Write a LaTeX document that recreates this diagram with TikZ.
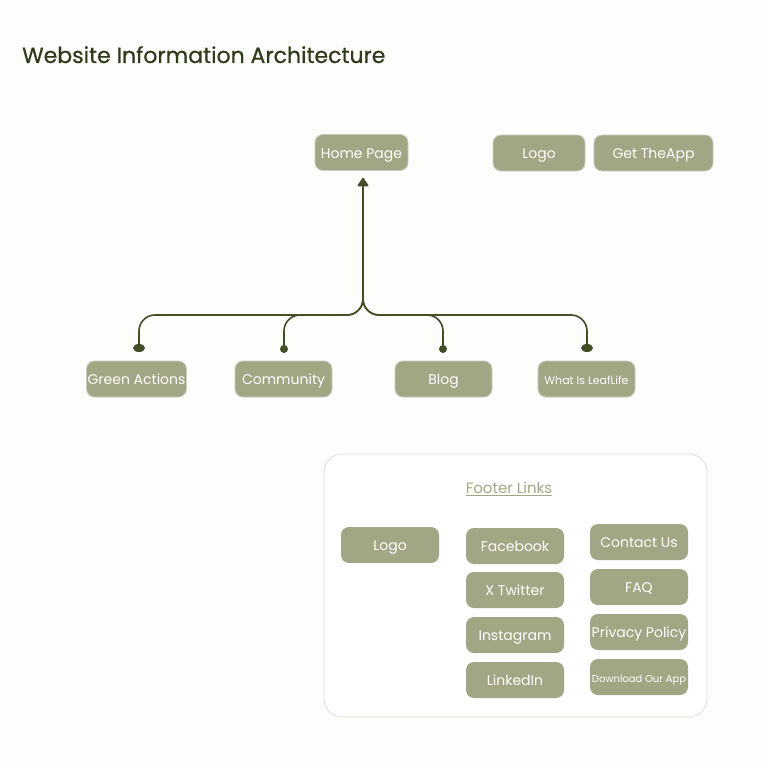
\documentclass[tikz,border=0pt]{standalone}
\usepackage{fontspec}
\setmainfont{Poppins}
\usetikzlibrary{arrows.meta}

\definecolor{bgc}{HTML}{FDFDFB}
\definecolor{boxfill}{HTML}{A3A684}
\definecolor{boxline}{HTML}{C9CBBD}
\definecolor{darkolive}{HTML}{434D28}
\definecolor{titlec}{HTML}{2F3A1A}
\definecolor{panelline}{HTML}{DCDCD8}

\tikzset{
  navbox/.style={draw=boxline, line width=0.8pt, fill=boxfill, rounded corners=8pt,
    minimum width=97pt, minimum height=36pt, inner sep=1pt, text height=1.1em, text depth=0pt,
    text=white, font=\fontsize{14}{16}\selectfont},
  link/.style={draw=darkolive, line width=1.6pt, rounded corners=16pt},
  knob/.style={fill=darkolive, ellipse, inner sep=0pt},
}
\usetikzlibrary{shapes.geometric}

\begin{document}
\begin{tikzpicture}[x=1pt, y=-1pt]

  \fill[bgc] (0,0) rectangle (768,768);
  \useasboundingbox (0,0) rectangle (768,768);

  %title
  \node[anchor=base west, text=titlec, font=\fontsize{22}{24}\selectfont\addfontfeature{FakeBold=0.5}, inner sep=0pt] (title) at (22,63) {Website Information Architecture};

  %top row
  \node[navbox, minimum width=93pt] (home) at (361.5,152.5) {Home Page};
  \node[navbox, minimum width=92pt] (logo) at (539,153) {Logo};
  \node[navbox, minimum width=119pt] (app) at (653.5,153) {Get TheApp};

  %second level
  \foreach \x/\txt/\name in {136.5/Green Actions/green, 283.5/Community/comm, 443.5/Blog/blog}{
    \node[navbox] (\name) at (\x,379) {\txt};
  }
  \node[navbox, font=\fontsize{11}{13}\selectfont] (leaf) at (586.5,379) {What Is LeafLife};

  %knobs
  \node[knob, minimum width=12pt, minimum height=8pt] (kgreen) at (139,348) {};
  \node[knob, minimum width=8pt, minimum height=8pt] (kcomm) at (284,349) {};
  \node[knob, minimum width=8pt, minimum height=8pt] (kblog) at (443,349) {};
  \node[knob, minimum width=12pt, minimum height=8pt] (kleaf) at (587,348) {};

  \coordinate (hub) at (363,315);
  \coordinate (up) at (363,285);

  \foreach \k in {kgreen,kcomm,kblog,kleaf}{
    \draw[link] (\k.center) |- (hub) -- (up);
  }
  \draw[link, -{Triangle[width=12pt,length=9pt,round]}, shorten >=7pt] (up) -- (home.south -| up);

  %footer
  \draw[draw=panelline, line width=0.8pt, fill=white, rounded corners=18pt] (324,454) rectangle (707,717);
  \node[text=boxfill, font=\fontsize{15}{17}\selectfont] (ftitle) at (509,489) {\underline{Footer Links}};

  \node[navbox, draw=none, minimum width=98pt] (flogo) at (390,545) {Logo};

  \foreach \y/\txt/\name in {546/Facebook/fb, 590/X Twitter/tw, 635/Instagram/ig, 680/LinkedIn/li}{
    \node[navbox, draw=none, minimum width=98pt] (\name) at (515,\y) {\txt};
  }
  \foreach \y/\txt/\name in {542/Contact Us/contact, 587/FAQ/faq, 632/Privacy Policy/privacy}{
    \node[navbox, draw=none, minimum width=98pt] (\name) at (639,\y) {\txt};
  }
  \node[navbox, draw=none, minimum width=98pt, font=\fontsize{10}{12}\selectfont] (download) at (639,677) {Download Our App};

\end{tikzpicture}
\end{document}
